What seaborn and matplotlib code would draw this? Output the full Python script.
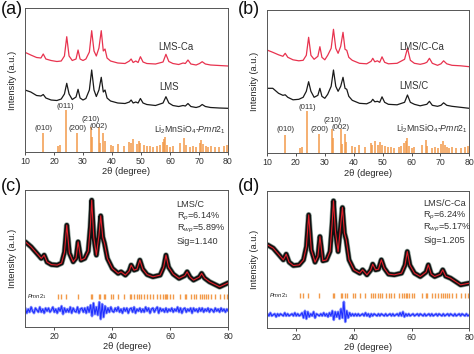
import numpy as np
import matplotlib
matplotlib.use("Agg")
import matplotlib.pyplot as plt
import seaborn as sns

# shared 2theta grid for the (a)/(b) patterns
tt_ab = [10, 12, 14, 15.5, 16.3, 17.2, 19, 21, 22.5, 23.6, 24.4, 25.2, 26.3, 27.6, 28.3,
         29.0, 30, 31, 32.2, 33.0, 33.8, 34.6, 35.5, 36.3, 37.0, 37.6, 38.3, 39.5, 42, 44.5,
         46.0, 46.6, 47.3, 48.2, 49.0, 49.8, 50.7, 52, 55, 57.6, 58.6, 59.6, 61, 63, 64.5,
         65.3, 66.2, 67.2, 69, 70.2, 71.1, 72.2, 74, 77, 80]
lms_ca = [99.7, 97, 94.5, 94, 98, 93, 91.5, 90.5, 91, 96, 115.3, 96, 91.5, 93, 102,
          93, 91.5, 93, 100, 121.3, 101, 96, 104, 121.3, 101, 103, 94, 91, 89, 88.5,
          91, 93, 89.5, 91, 89.5, 95.3, 90, 88.5, 88, 90, 97.7, 90.5, 88.5, 87.5, 89,
          88.5, 92, 88, 87, 88.5, 90.3, 88, 87, 86.5, 86]
lms = [62, 60, 56.5, 56, 57.5, 54, 52, 51.5, 53, 58, 68.7, 58, 52.5, 55, 62.7,
       54, 52, 53.5, 62, 82, 62, 55.5, 62, 74.7, 60, 62, 54, 51, 49, 48.5,
       50, 52, 49, 50, 49, 53.5, 49, 47.5, 46.5, 49, 55.3, 49, 46.5, 45.5, 46.5,
       46, 48.5, 45.5, 44.5, 45.5, 47.5, 45.5, 44.5, 44, 43.7]
lmsc_ca = [103.3, 101, 98.5, 97, 100, 96, 93.5, 92.5, 93, 98, 116, 98, 94, 97, 106.6,
           96, 93.5, 98, 105, 124, 105, 100, 107, 121, 104, 103, 96, 93, 90, 89.5,
           92, 95, 91.5, 92.5, 91, 96.5, 91, 89.5, 90, 94, 105, 93, 90, 89, 90,
           91, 95, 90, 88, 89.5, 92.5, 89.5, 88, 87.5, 86.6]
lmsc = [65, 65, 60, 58, 58.5, 56, 53.5, 54, 56, 62, 71.6, 62, 56, 58, 65,
        57, 55, 59, 67, 83.3, 67, 62, 67, 76, 65, 64, 57, 53, 50, 49.5,
        51.5, 54, 51.5, 52, 51, 56.5, 51, 49, 48.5, 51, 58.3, 51, 49, 47.5, 48.5,
        49, 52, 48, 47, 48, 50.5, 48, 47, 46, 45]

# Li2MnSiO4 Pmn21 reference reflections
ref_pos = [16.1, 21.3, 22.2, 24.0, 28.0, 32.6, 33.0, 35.5, 35.8, 37.0, 37.5, 39.5, 40.3,
           42.0, 44.0, 46.0, 46.5, 47.4, 48.5, 49.2, 49.8, 51.0, 52.0, 53.0, 54.0, 55.5,
           56.5, 57.5, 58.0, 58.4, 59.0, 60.0, 61.0, 63.5, 65.0, 65.5, 67.0, 68.0, 69.0,
           70.3, 70.8, 71.5, 72.3, 73.0, 74.0, 75.5, 77.0, 78.5, 79.5]
ref_int = [18.7, 5.7, 6.7, 42, 19.3, 24.7, 15, 24.7, 9.3, 19.3, 11, 7, 6,
           8, 6, 10, 8.7, 12.7, 8, 11.3, 8.7, 7, 6, 6.3, 5.3, 6,
           7, 10.3, 12.7, 15.3, 7, 5.3, 6, 8.7, 13.7, 7, 5.3, 6, 5.3,
           9.3, 12.3, 8, 6.3, 5.3, 6, 5.3, 5.3, 6.3, 7]
hkl_labels = ["(010)", "(011)", "(200)", "(210)", "(002)"]
hkl_x = [16.3, 24.0, 28.3, 32.6, 35.5]
hkl_y = [23.7, 46, 23.7, 33, 26]

# Rietveld refinements (c) LMS/C and (d) LMS/C-Ca
tt_fit = [10, 12, 14, 15.5, 16.5, 17.5, 19, 21, 22.5, 23.5, 24.3, 25.2, 26.5, 27.5, 28.2,
          29.2, 30.5, 31.7, 32.4, 32.9, 33.6, 34.5, 35.4, 36.0, 36.7, 37.3, 38.3, 40, 42,
          43, 44.5, 45.8, 46.5, 47.5, 48.5, 49.5, 50.5, 52, 54, 56.5, 57.7, 58.5, 59.4, 61,
          63, 65, 65.8, 66.8, 68, 70, 70.8, 71.8, 73.5, 77, 80]
obs_c = [85.3, 80.3, 73.7, 68.7, 72, 65, 62.5, 62, 64, 75, 102, 74, 65.3, 69, 85.3,
         67, 68.7, 76, 100, 127, 90, 72, 92, 111.3, 90, 83.7, 68.7, 58.7, 53.7,
         55.3, 52, 56, 62, 57, 58, 67, 58, 52.5, 50.3, 52, 60, 72, 60, 53,
         48.7, 51.5, 55.3, 50, 47, 50, 53.7, 49, 45.3, 40.3, 44.3]
obs_d = [83.3, 80, 73.3, 68.3, 74, 66, 62.6, 63.3, 68.3, 81.6, 113.3, 78.3, 66, 72, 91.6,
         67.3, 68.3, 76.6, 103.3, 127.3, 96, 76.6, 103.3, 120.6, 95, 88.3, 68.3, 58.3, 55,
         58.3, 53.3, 58, 64, 58.3, 59, 68.3, 60, 54, 53.3, 55, 63, 76.6, 63, 55,
         51.6, 56, 63.3, 54, 51.6, 54, 58.3, 52, 50, 43.3, 45]
tt_diff = np.arange(10, 80.01, 0.5)
diff_c = [2, -3, 1, -2, 3, -1, -3, 2, 0, -2, 3, -2, 1, -3, 2, -1, 2, -2, 0, 3, -2,
          1, -3, 2, -1, 4, -4, 2, -2, 1, -2, 3, -3, 2, -1, -2, 3, -3, 1, 2, -2,
          2, -3, 3, -2, 5, -6, 7, -4, 3, -5, 8, -9, 6, -7, 4, -3, 2, -2, 3, -1,
          -2, 2, -1, 3, -2, 1, -3, 2, -1, 2, -3, 1, 2, -2, 3, -3, 1, -1, 2, -2,
          1, -2, 3, -1, 2, -3, 1, 2, -2, 1, 3, -3, 2, -1, 1, -2, 2, -2, 1, -1,
          2, -2, 1, -1, 3, -2, 2, -3, 1, 2, -2, 1, -1, 2, -3, 2, -1, 1, -2, 2,
          -1, 2, -2, 1, -1, 2, -2, 1, 0, -2, 2, -1, 1, -2, 2, -1, 1, -2, 1, -1]
diff_d = [1, -1, 2, -1, 0, 1, -2, 1, -1, 1, 0, -1, 2, -1, 1, -1, 0, 1, -1, 2, -1,
          1, -1, 0, 2, -3, 4, -4, 3, -2, 1, -1, 3, -3, 1, 0, -1, 1, -1, 2, -1,
          1, -2, 2, -1, 4, -5, 3, -2, 3, -4, 6, -3, 13, -7, 4, -3, 2, -1, 1, -1,
          1, -1, 1, -1, 0, 1, -1, 2, -1, 1, -2, 1, -1, 1, 0, -1, 1, -1, 1, 0,
          -1, 1, -1, 0, 1, -1, 1, -1, 0, 1, -1, 2, -1, 3, -2, 1, -1, 1, -1, 0,
          1, -1, 0, 1, -1, 1, 0, -1, 1, -1, 0, 1, -1, 1, -1, 0, 1, -1, 1, 0,
          -1, 1, -1, 0, 1, -1, 1, 0, -1, 1, -1, 0, 1, -1, 1, 0, -1, 1, -1, 0]
stats_c = ["LMS/C", "R$_p$=6.14%", "R$_{wp}$=5.89%", "Sig=1.140"]
stats_d = ["LMS/C-Ca", "R$_p$=6.24%", "R$_{wp}$=5.17%", "Sig=1.205"]

sns.set_theme(style="ticks")
plt.rcParams["font.family"] = ["Liberation Sans", "DejaVu Sans"]
plt.rcParams.update({"mathtext.fontset": "custom", "mathtext.rm": "Liberation Sans",
                     "mathtext.it": "Liberation Sans:italic",
                     "mathtext.bf": "Liberation Sans:bold"})

RED = "#e8334f"
STICK = "#f29a4a"
FS = 6.3

fig = plt.figure(figsize=(4.74, 3.54), dpi=100)
ax_a = fig.add_axes([0.0527, 0.5706, 0.4283, 0.4068])
ax_b = fig.add_axes([0.5633, 0.5669, 0.4268, 0.4040])
ax_c = fig.add_axes([0.0534, 0.0760, 0.4283, 0.3880])
ax_d = fig.add_axes([0.5643, 0.0730, 0.4257, 0.3870])


def style_axis(ax, ytop, ticks):
    ax.set_xlim(10, 80)
    ax.set_ylim(0, ytop)
    ax.set_xticks(ticks)
    ax.set_yticks([])
    ax.tick_params(axis="x", direction="out", length=2.5, width=0.6, pad=1.2,
                   labelsize=FS, colors="#333333")
    for s in ax.spines.values():
        s.set_linewidth(0.7)
        s.set_color("#555555")
    ax.set_xlabel("2θ (degree)", fontsize=FS + 0.4, labelpad=0.8)
    ax.set_ylabel("Intensity (a.u.)", fontsize=FS + 0.4, labelpad=6)


def xrd_panel(ax, ytop, top, bottom, top_lab, bot_lab, top_xy, bot_xy, ref_y):
    sns.lineplot(x=tt_ab, y=top, ax=ax, color=RED, lw=0.9)
    sns.lineplot(x=tt_ab, y=bottom, ax=ax, color="#1a1a1a", lw=0.9)
    ax.vlines(ref_pos, 0, ref_int, color=STICK, lw=1.1)
    for lab, x, y in zip(hkl_labels, hkl_x, hkl_y):
        ax.text(x, y, lab, fontsize=FS - 0.6, ha="center", va="center", color="#333333")
    ax.text(top_xy[0], top_xy[1], top_lab, fontsize=FS + 0.6, ha="center", va="center",
            color="#333333")
    ax.text(bot_xy[0], bot_xy[1], bot_lab, fontsize=FS + 0.6, ha="center", va="center",
            color="#333333")
    ax.text(67, ref_y, "Li$_2$MnSiO$_4$-$Pmn2_1$", fontsize=FS, ha="center", va="center",
            color="#333333")
    style_axis(ax, ytop, range(10, 81, 10))


def fit_panel(ax, ytop, obs, diff, base, tick_y, stats, sx, sy):
    sns.lineplot(x=tt_fit, y=obs, ax=ax, color="#4d6b60", lw=4.2, alpha=0.6)
    sns.lineplot(x=tt_fit, y=obs, ax=ax, color="#111111", lw=3.2)
    sns.lineplot(x=tt_fit, y=obs, ax=ax, color="#e0202a", lw=0.8)
    d = np.array(diff) + base
    ax.plot(tt_diff, d, color="#8c96ff", lw=2.0)
    ax.plot(tt_diff, d, color="#1f2fff", lw=0.8)
    bragg = [p for p in ref_pos if p > 20]
    ax.vlines(bragg, tick_y - 2.5, tick_y + 2.5, color=STICK, lw=1.0)
    ax.text(10.5, tick_y, "$\\mathbf{\\mathit{Pmn2_1}}$", fontsize=4.2, ha="left",
            va="center", color="#222222")
    for i, s in enumerate(stats):
        ax.text(sx, sy - 12.6 * i, s, fontsize=FS + 0.3, ha="left", va="center",
                color="#333333")
    style_axis(ax, ytop, [20, 40, 60, 80])


xrd_panel(ax_a, 144, lms_ca, lms, "LMS-Ca", "LMS", (61.9, 105.5), (59.7, 65.5), 22)
xrd_panel(ax_b, 143, lmsc_ca, lmsc, "LMS/C-Ca", "LMS/C", (63.5, 106.6), (60.9, 67.3), 25)
fit_panel(ax_c, 137.4, obs_c, diff_c, 17, 31, stats_c, 62.2, 123)
fit_panel(ax_d, 137, obs_d, diff_d, 13.3, 33, stats_d, 64.0, 125)

for lab, x, y in [("(a)", 0.0, 1.0), ("(b)", 0.5, 1.0), ("(c)", 0.0, 0.5), ("(d)", 0.5, 0.5)]:
    fig.text(x + 0.002, y - 0.002, lab, fontsize=13, ha="left", va="top", color="#111111")

fig.savefig("out.png", dpi=100)
